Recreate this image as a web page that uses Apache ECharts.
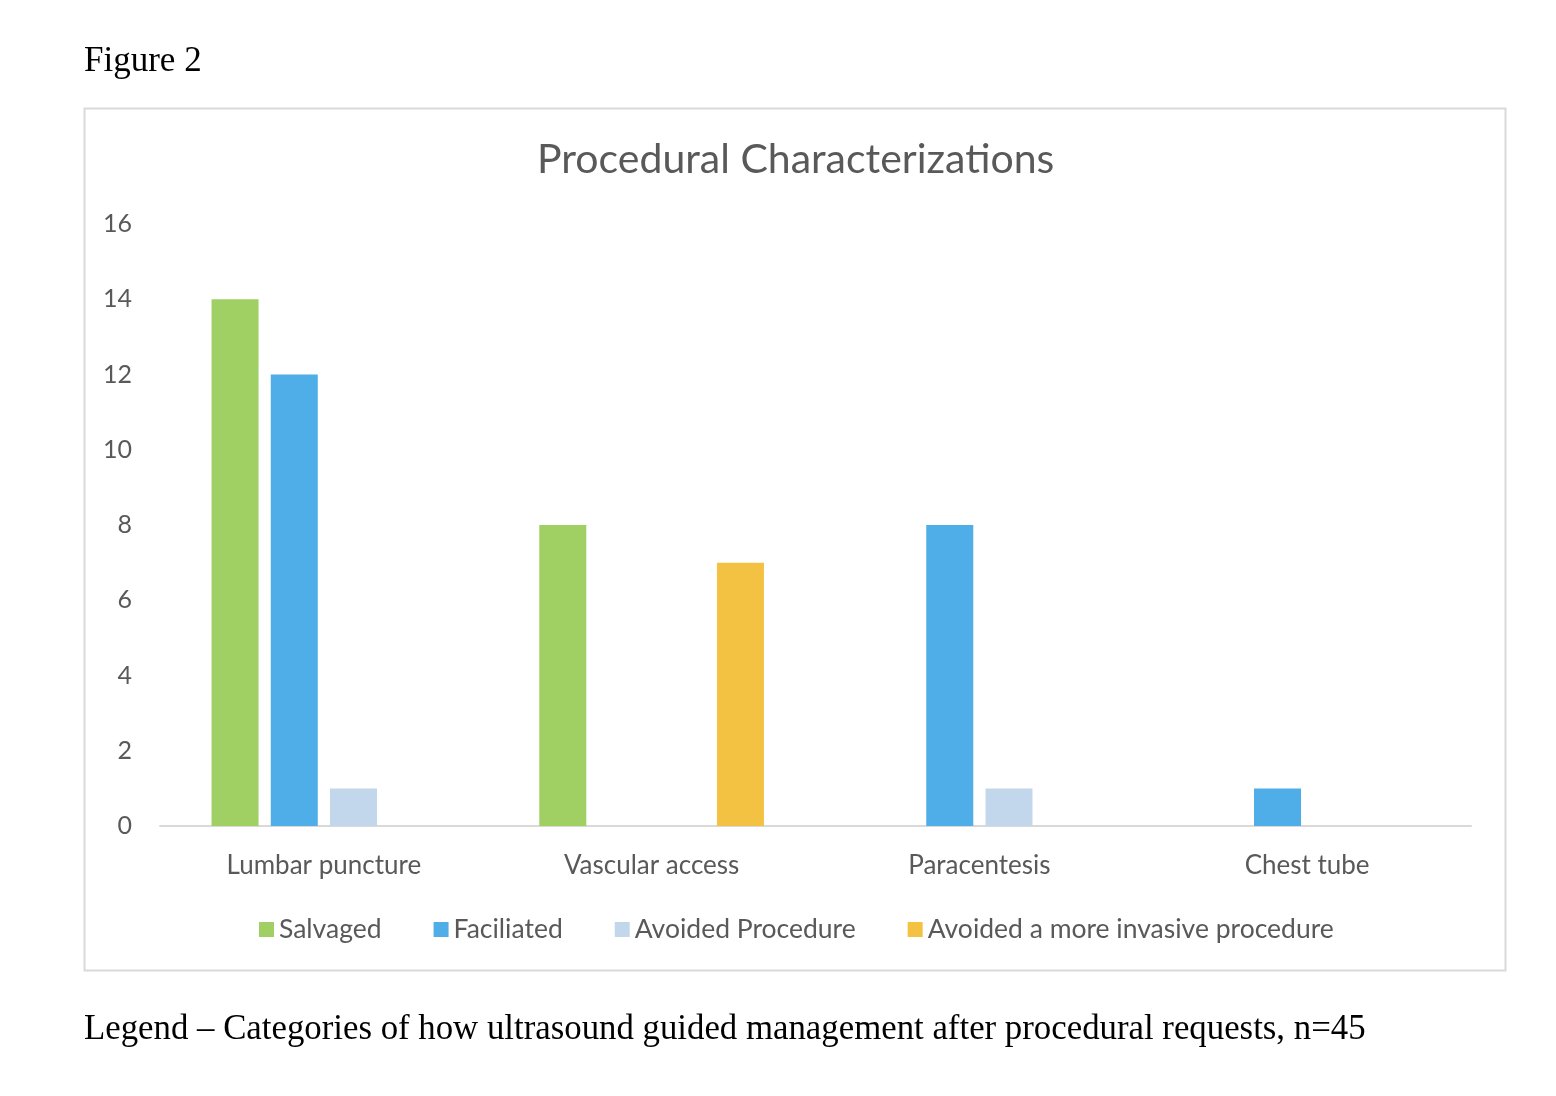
<!DOCTYPE html>
<html><head><meta charset="utf-8">
<script src="https://cdn.jsdelivr.net/npm/echarts@6/dist/echarts.min.js"></script>
<style>html,body{margin:0;padding:0;background:#fff;}#c{width:1556px;height:1096px;}</style>
</head><body><div id="c"></div>
<script>
const categories = ['Lumbar puncture', 'Vascular access', 'Paracentesis', 'Chest tube'];
const salvaged = [14, 8, 0, 0];
const faciliated = [12, 0, 8, 1];
const avoidedProcedure = [1, 0, 1, 0];
const avoidedMoreInvasive = [0, 7, 0, 0];
const yTicks = [0, 2, 4, 6, 8, 10, 12, 14, 16];

const sans = 'Lato';
const serif = 'Liberation Serif';
const chart = echarts.init(document.getElementById('c'));
function mk(name, data, color) {
  return { name, type: 'bar', data, barWidth: 47, barGap: '26%', itemStyle: { color } };
}
chart.setOption({
  animation: false,
  title: [
    { text: 'Figure 2', left: 84, top: 44, padding: 0, textStyle: { fontFamily: serif, fontSize: 35, fontWeight: 'normal', color: '#000' } },
    { text: 'Procedural Characterizations', left: 537, top: 139, padding: 0, textStyle: { fontFamily: sans, fontSize: 41, fontWeight: 'normal', color: '#595959' } },
    { text: 'Legend \u2013 Categories of how ultrasound guided management after procedural requests, n=45', left: 84, top: 1012, padding: 0, textStyle: { fontFamily: serif, fontSize: 34.8, fontWeight: 'normal', color: '#000' } }
  ],
  graphic: [
    { type: 'rect', shape: { x: 84.5, y: 108.5, width: 1421, height: 862 }, style: { fill: 'none', stroke: '#D9D9D9', lineWidth: 2 }, z: -1 }
  ],
  legend: {
    top: 911, left: 254, itemWidth: 15, itemHeight: 15, itemGap: 52,
    icon: 'rect',
    textStyle: { fontFamily: sans, fontSize: 26.5, color: '#595959', padding: [0, 0, 0, 0] },
    data: ['Salvaged', 'Faciliated', 'Avoided Procedure', 'Avoided a more invasive procedure']
  },
  grid: { left: 160, right: 85, top: 224, bottom: 270, containLabel: false },
  xAxis: {
    type: 'category', data: categories,
    axisLine: { lineStyle: { color: '#D9D9D9', width: 2 } },
    axisTick: { show: false },
    axisLabel: { fontFamily: sans, fontSize: 26, color: '#595959', margin: 27 }
  },
  yAxis: {
    type: 'value', min: yTicks[0], max: yTicks[yTicks.length - 1], interval: 2,
    axisLine: { show: false }, axisTick: { show: false }, splitLine: { show: false },
    axisLabel: { fontFamily: sans, fontSize: 25, color: '#595959', margin: 28 }
  },
  series: [
    mk('Salvaged', salvaged, '#A0CF63'),
    mk('Faciliated', faciliated, '#4FADE8'),
    mk('Avoided Procedure', avoidedProcedure, '#C3D7EC'),
    mk('Avoided a more invasive procedure', avoidedMoreInvasive, '#F4C242')
  ]
});
</script></body></html>
